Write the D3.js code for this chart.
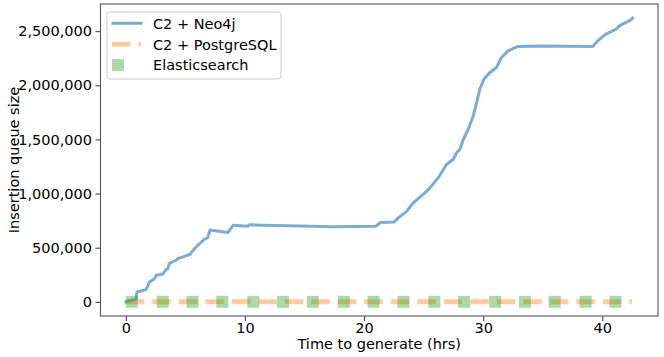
<!DOCTYPE html>
<html>
<head>
<meta charset="utf-8">
<script src="https://cdn.jsdelivr.net/npm/d3@7"></script>
<style>
  html, body { margin: 0; padding: 0; background: #fff; }
  svg { display: block; font-family: "DejaVu Sans", sans-serif; }
</style>
</head>
<body>
<svg id="chart" width="664" height="357"></svg>
<script>
// Insertion queue size over generation time — three backends.
// Neo4j keeps backing up; Postgres and Elasticsearch stay at zero.

const neoHours = [0, 0.85, 0.94, 1.57, 1.71, 1.99, 2.41, 2.55, 3.11, 3.39, 3.53, 3.66, 4.22, 4.36,
  5.42, 5.48, 6.04, 6.59, 6.87, 7.07, 8.55, 9.01, 10.22, 10.35, 12.5, 14.67, 17.43, 20.97,
  21.36, 22.53, 22.89, 23.45, 23.6, 24.15, 25.13, 25.54, 26.24, 26.94, 27.49, 27.78, 28.05,
  28.33, 28.75, 29.16, 29.45, 29.72, 30.06, 30.56, 31.12, 31.54, 32.09, 32.93, 34.74, 37.0,
  39.2, 39.6, 40.3, 41.15, 41.43, 41.7, 42.4, 42.55];
const neoQueue = [0, 25000, 91000, 109000, 116000, 183000, 214000, 245000, 257000, 300000, 307000,
  356000, 384000, 399000, 439000, 455000, 522000, 578000, 593000, 664000, 640000, 707000,
  697000, 712000, 704000, 700000, 694000, 697000, 732000, 738000, 778000, 824000, 839000,
  917000, 1009000, 1055000, 1148000, 1271000, 1317000, 1379000, 1409000, 1502000, 1594000,
  1717000, 1841000, 1964000, 2056000, 2118000, 2165000, 2257000, 2318000, 2359000, 2364000,
  2360000, 2359000, 2410000, 2472000, 2518000, 2549000, 2565000, 2604000, 2620000];

const pgHours = [0, 42.5];
const pgQueue = [0, 0];

const esHours = [0.5, 3.1, 5.6, 8.1, 10.7, 13.2, 15.7, 18.3, 20.8, 23.3, 25.9, 28.4, 31.0, 33.5, 36.0, 38.6, 41.1];
const esQueue = [0, 0, 0, 0, 0, 0, 0, 0, 0, 0, 0, 0, 0, 0, 0, 0, 0];

const xTicks = [0, 10, 20, 30, 40];
const yTicks = [0, 500000, 1000000, 1500000, 2000000, 2500000];
const seriesNames = ["C2 + Neo4j", "C2 + PostgreSQL", "Elasticsearch"];

const BLUE = "rgba(31,119,180,0.6)", ORANGE = "rgba(255,127,14,0.4)", GREEN = "rgba(44,160,44,0.4)";
const DASH = "18.5,8";
const FONT = "14.5px 'DejaVu Sans'";

const svg = d3.select("#chart");
const L = 100.5, R = 658, T = 4, B = 316;

// matplotlib-style 5% padding around the data
const xMax = d3.max(neoHours.concat(pgHours, esHours)), xMin = 0;
const yMax = d3.max(neoQueue), yMin = 0;
const px = (xMax - xMin) * 0.05, py = (yMax - yMin) * 0.05;
const x = d3.scaleLinear().domain([xMin - px, xMax + px]).range([L, R]);
const y = d3.scaleLinear().domain([yMin - py, yMax + py]).range([B, T]);

const plot = svg.append("g");
const line = d3.line().x(d => x(d[0])).y(d => y(d[1]));

plot.append("path")
  .attr("d", line(d3.zip(neoHours, neoQueue)))
  .attr("fill", "none").attr("stroke", BLUE).attr("stroke-width", 3)
  .attr("stroke-linejoin", "round").attr("stroke-linecap", "square");

plot.append("path")
  .attr("d", line(d3.zip(pgHours, pgQueue)))
  .attr("fill", "none").attr("stroke", ORANGE).attr("stroke-width", 5)
  .attr("stroke-dasharray", DASH);

plot.selectAll("rect.es").data(d3.zip(esHours, esQueue)).join("rect")
  .attr("class", "es")
  .attr("x", d => x(d[0]) - 6).attr("y", d => y(d[1]) - 6)
  .attr("width", 12).attr("height", 12)
  .attr("fill", GREEN);

// axes
const xAxis = svg.append("g").attr("transform", `translate(0,${B})`)
  .call(d3.axisBottom(x).tickValues(xTicks).tickSize(5).tickPadding(1.5).tickFormat(d3.format("d")));
const yAxis = svg.append("g").attr("transform", `translate(${L},0)`)
  .call(d3.axisLeft(y).tickValues(yTicks).tickSize(5).tickPadding(3.5).tickFormat(d3.format(",")));
for (const g of [xAxis, yAxis]) {
  g.select(".domain").remove();
  g.selectAll("line").attr("stroke", "#333");
  g.selectAll("text").attr("fill", "#000").style("font", FONT);
}

// frame
svg.append("rect")
  .attr("x", L).attr("y", T).attr("width", R - L).attr("height", B - T)
  .attr("fill", "none").attr("stroke", "#555").attr("stroke-width", 1.1);

svg.append("text")
  .attr("x", (L + R) / 2).attr("y", 349)
  .attr("text-anchor", "middle").style("font", FONT)
  .text("Time to generate (hrs)");
svg.append("text")
  .attr("transform", `translate(19,${(T + B) / 2}) rotate(-90)`)
  .attr("text-anchor", "middle").style("font", FONT)
  .text("Insertion queue size");

// legend
const lg = svg.append("g");
lg.append("rect")
  .attr("x", 107).attr("y", 12).attr("width", 174).attr("height", 67).attr("rx", 3)
  .attr("fill", "rgba(255,255,255,0.8)").attr("stroke", "#ccc").attr("stroke-width", 1);
const rowY = [23.3, 44.3, 65];
lg.append("line").attr("x1", 113).attr("x2", 141).attr("y1", rowY[0]).attr("y2", rowY[0])
  .attr("stroke", BLUE).attr("stroke-width", 3).attr("stroke-linecap", "square");
lg.append("line").attr("x1", 112).attr("x2", 141).attr("y1", rowY[1]).attr("y2", rowY[1])
  .attr("stroke", ORANGE).attr("stroke-width", 5).attr("stroke-dasharray", DASH);
lg.append("rect").attr("x", 112).attr("y", rowY[2] - 6).attr("width", 12).attr("height", 12)
  .attr("fill", GREEN);
lg.selectAll("text.lbl").data(seriesNames).join("text")
  .attr("class", "lbl")
  .attr("x", 153).attr("y", (d, i) => rowY[i]).attr("dy", "0.36em")
  .style("font", FONT)
  .text(d => d);
</script>
</body>
</html>
